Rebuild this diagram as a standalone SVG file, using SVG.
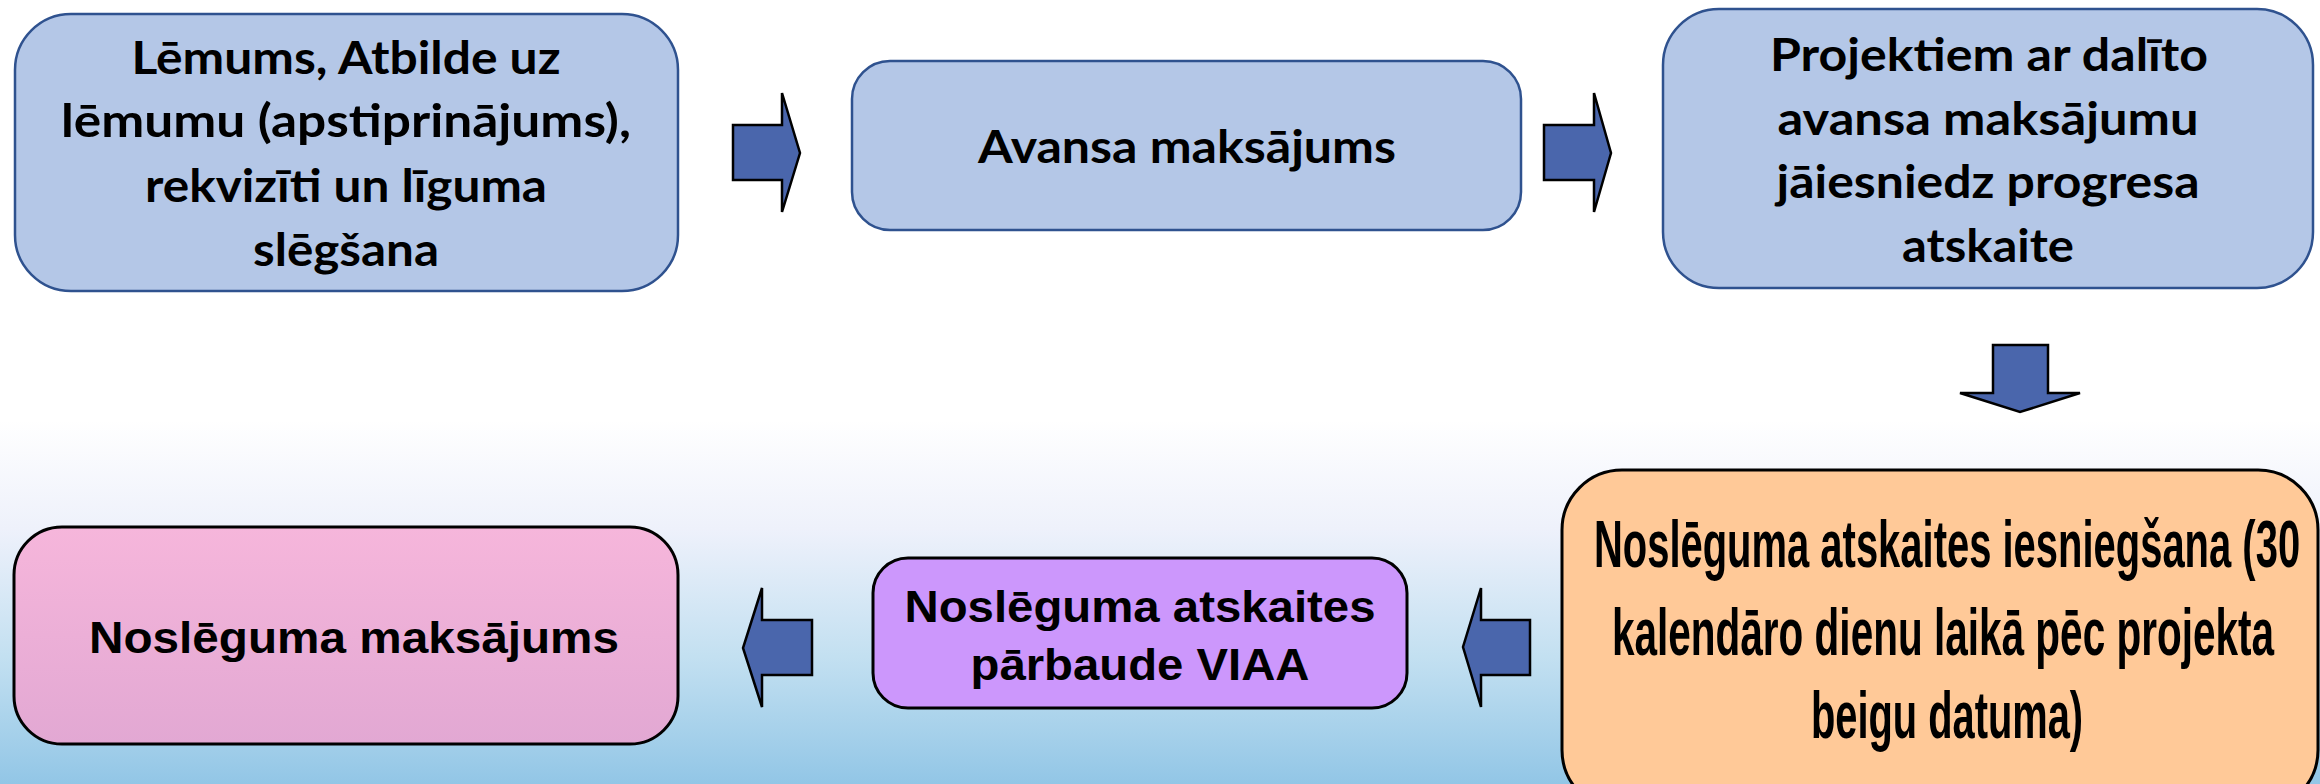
<svg xmlns="http://www.w3.org/2000/svg" width="2320" height="784" viewBox="0 0 2320 784">
<defs>
<linearGradient id="bg" x1="0" y1="0" x2="0" y2="1">
<stop offset="0" stop-color="#ffffff"/>
<stop offset="0.3" stop-color="#eef1fb"/>
<stop offset="0.65" stop-color="#c3e0f1"/>
<stop offset="1" stop-color="#92c6e6"/>
</linearGradient>
<linearGradient id="pink" x1="0" y1="0" x2="0" y2="1">
<stop offset="0" stop-color="#f6b6db"/>
<stop offset="1" stop-color="#e2a8d3"/>
</linearGradient>
<style>
.top{fill:#b4c7e7;stroke:#2f528f;stroke-width:2.5}
.bot{stroke:#000;stroke-width:3}
.arr{fill:#4a66ac;stroke:#000;stroke-width:2.5;stroke-linejoin:miter}
.t1{font-family:Lato,"Open Sans","Liberation Sans",sans-serif;font-weight:bold;font-size:45px;fill:#000;text-anchor:middle}
.t2{font-family:"Liberation Sans Narrow","Liberation Sans",Arial,sans-serif;font-weight:bold;font-size:45px;fill:#000;text-anchor:middle}
.t3{font-family:"Liberation Sans",Arial,sans-serif;font-weight:bold;font-size:66px;fill:#000;text-anchor:middle}
</style>
</defs>
<rect x="0" y="0" width="2320" height="784" fill="#ffffff"/>
<rect x="0" y="420" width="2320" height="364" fill="url(#bg)"/>

<g id="connectors">
<polygon class="arr" points="733,125 782,125 782,93 800,153 782,212 782,180 733,180"/>
<polygon class="arr" points="1544,125 1594,125 1594,93 1611,153 1594,212 1594,180 1544,180"/>
<polygon class="arr" points="1993,345 2048,345 2048,393 2080,393 2020,412 1960,393 1993,393"/>
<polygon class="arr" points="1530,620 1481,620 1481,588 1463,647 1481,707 1481,675 1530,675"/>
<polygon class="arr" points="812,620 762,620 762,588 743,648 762,707 762,675 812,675"/>
</g>

<g id="node1">
<rect class="top" x="15" y="14" width="663" height="277" rx="56" ry="56"/>
<text class="t1" x="346" y="74" textLength="429" lengthAdjust="spacingAndGlyphs">Lēmums, Atbilde uz</text>
<text class="t1" x="346" y="137" textLength="570" lengthAdjust="spacingAndGlyphs">lēmumu (apstiprinājums),</text>
<text class="t1" x="346" y="202" textLength="402" lengthAdjust="spacingAndGlyphs">rekvizīti un līguma</text>
<text class="t1" x="346" y="266" textLength="186" lengthAdjust="spacingAndGlyphs">slēgšana</text>
</g>

<g id="node2">
<rect class="top" x="852" y="61" width="669" height="169" rx="38" ry="38"/>
<text class="t1" x="1187" y="163" textLength="418" lengthAdjust="spacingAndGlyphs">Avansa maksājums</text>
</g>

<g id="node3">
<rect class="top" x="1663" y="9" width="650" height="279" rx="56" ry="56"/>
<text class="t1" x="1989" y="71" textLength="438" lengthAdjust="spacingAndGlyphs">Projektiem ar dalīto</text>
<text class="t1" x="1988" y="135" textLength="421" lengthAdjust="spacingAndGlyphs">avansa maksājumu</text>
<text class="t1" x="1988" y="198" textLength="423" lengthAdjust="spacingAndGlyphs">jāiesniedz progresa</text>
<text class="t1" x="1988" y="262" textLength="172" lengthAdjust="spacingAndGlyphs">atskaite</text>
</g>

<g id="node4">
<rect class="bot" fill="#ffc998" x="1562" y="470" width="756" height="340" rx="60" ry="60"/>
<text class="t3" transform="translate(1947,567) scale(0.55,1)" x="0" y="0" textLength="1284" lengthAdjust="spacingAndGlyphs">Noslēguma atskaites iesniegšana (30</text>
<text class="t3" transform="translate(1943,655) scale(0.55,1)" x="0" y="0" textLength="1204" lengthAdjust="spacingAndGlyphs">kalendāro dienu laikā pēc projekta</text>
<text class="t3" transform="translate(1947,738) scale(0.55,1)" x="0" y="0" textLength="495" lengthAdjust="spacingAndGlyphs">beigu datuma)</text>
</g>

<g id="node5">
<rect class="bot" fill="#cc97fc" x="873" y="558" width="534" height="150" rx="35" ry="35"/>
<text class="t2" x="1140" y="622" textLength="471" lengthAdjust="spacingAndGlyphs">Noslēguma atskaites</text>
<text class="t2" x="1140" y="680" textLength="339" lengthAdjust="spacingAndGlyphs">pārbaude VIAA</text>
</g>

<g id="node6">
<rect class="bot" fill="url(#pink)" x="14" y="527" width="664" height="217" rx="48" ry="48"/>
<text class="t2" x="354" y="653" textLength="530" lengthAdjust="spacingAndGlyphs">Noslēguma maksājums</text>
</g>
</svg>
